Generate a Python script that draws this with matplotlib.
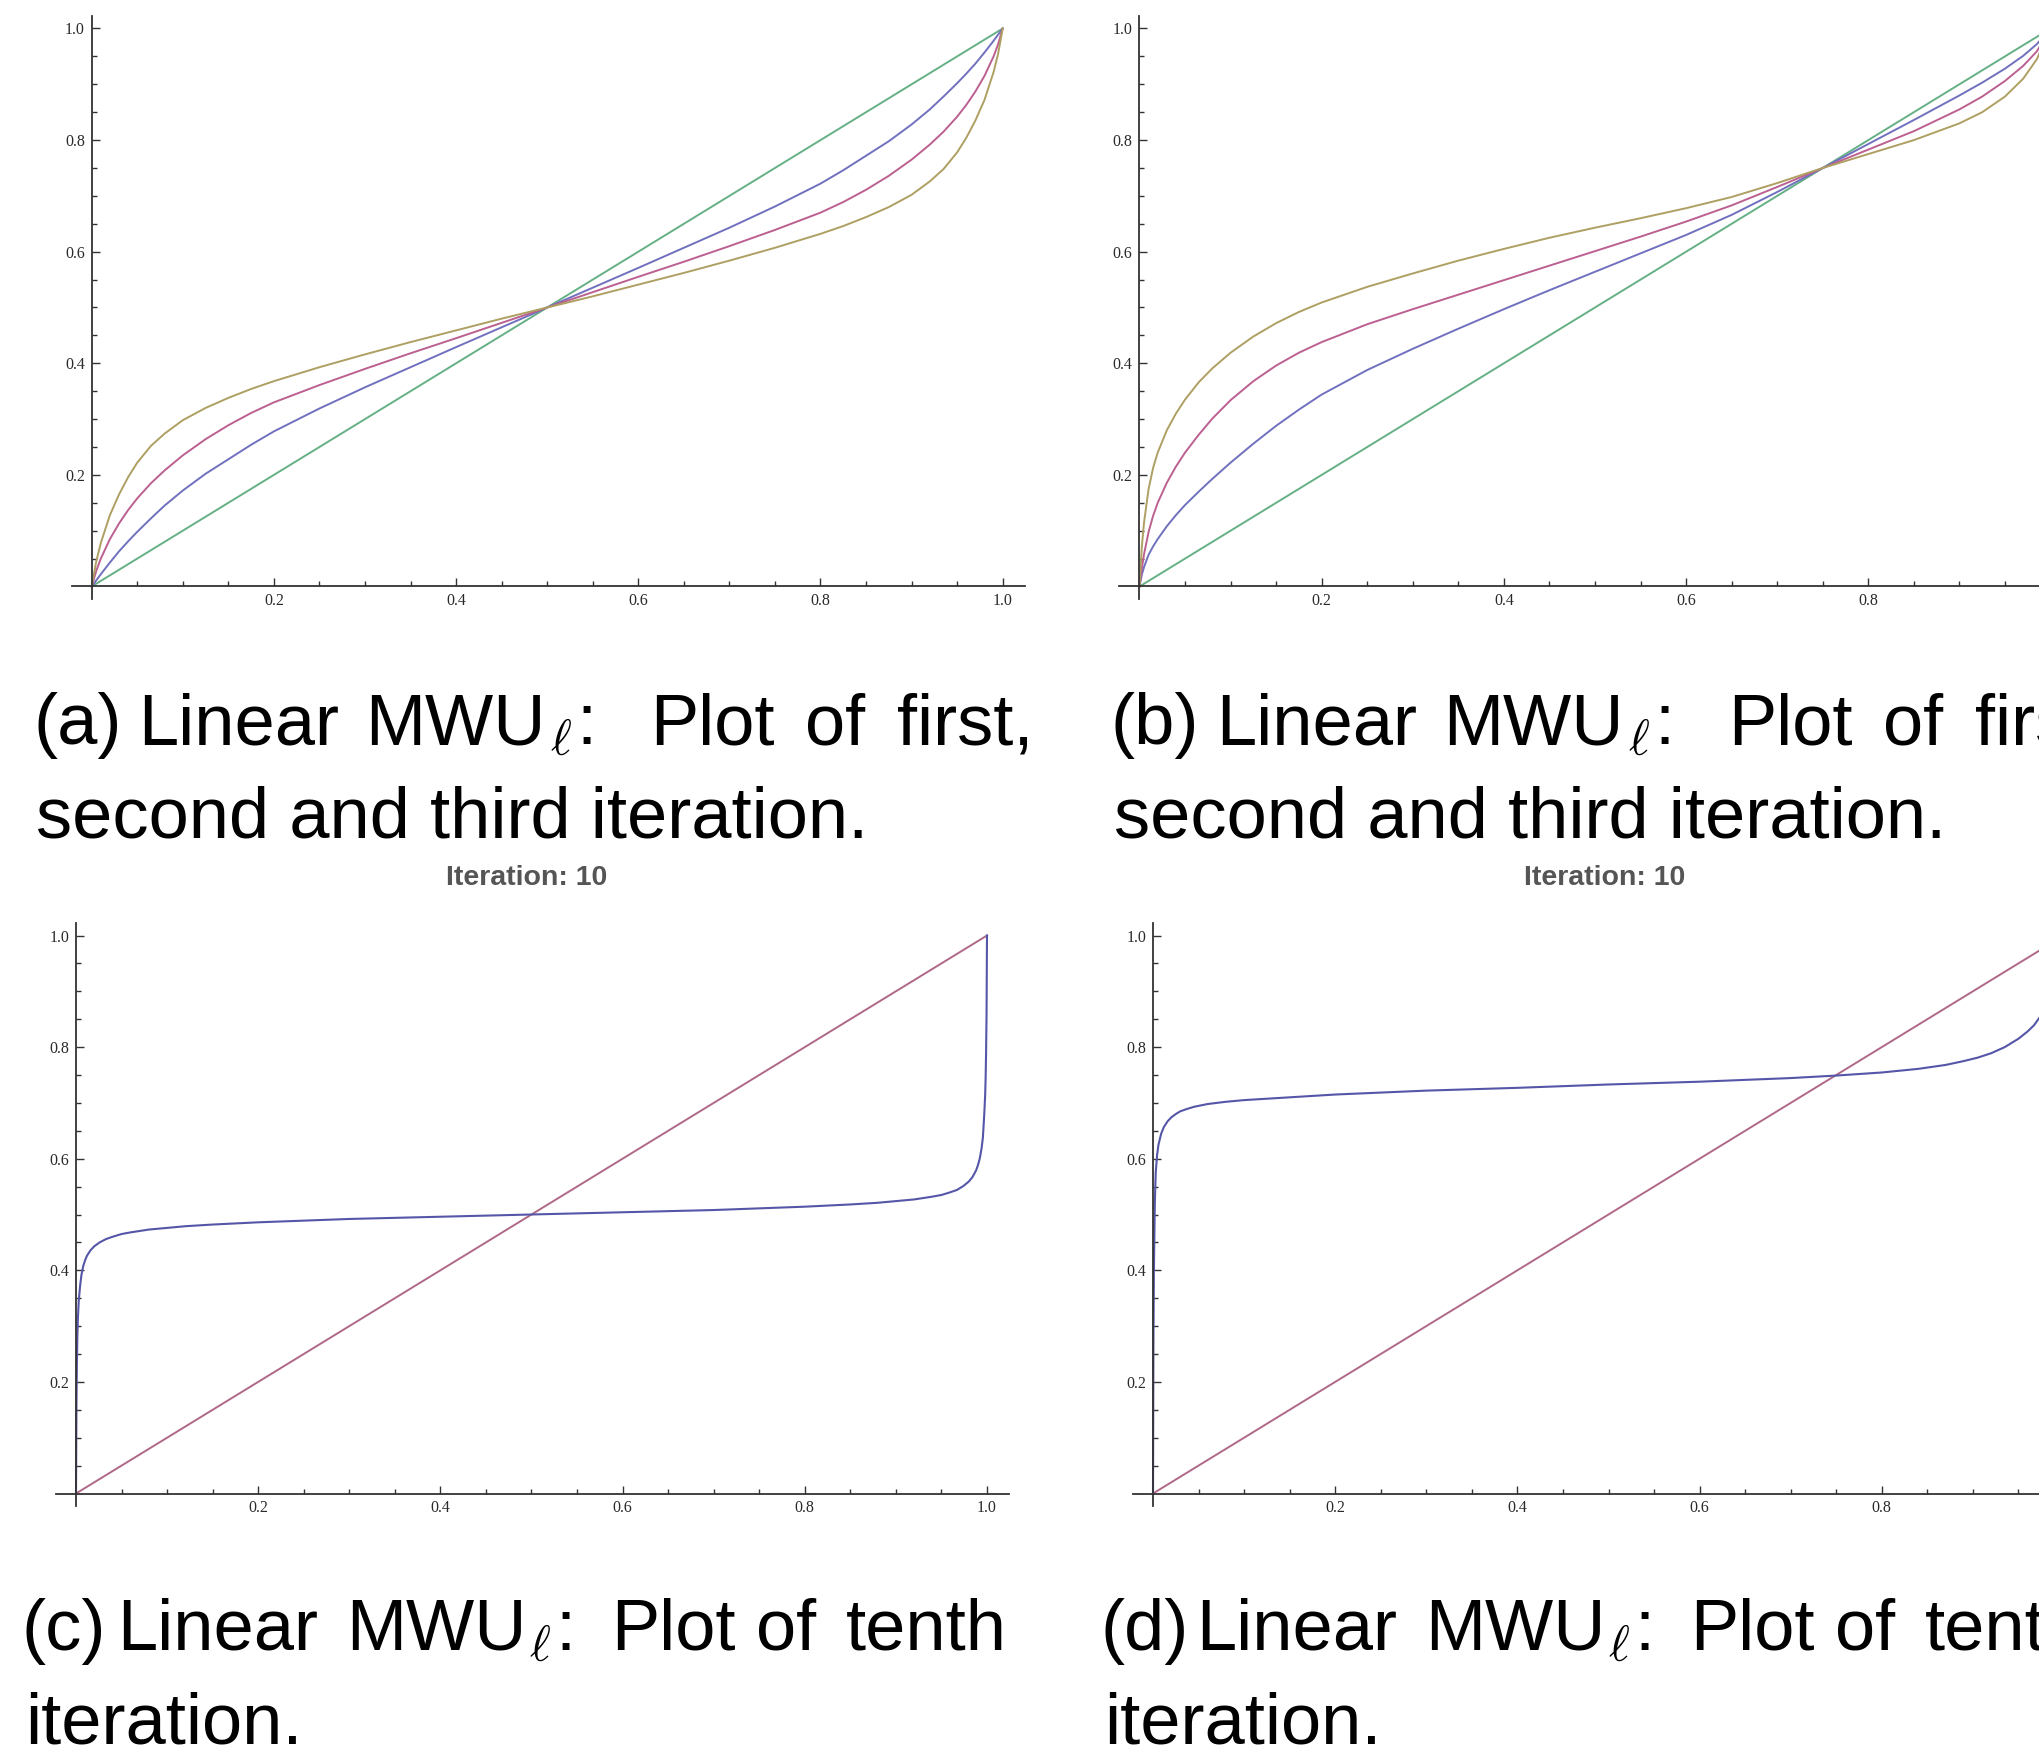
import numpy as np
import matplotlib.pyplot as plt

# colours of the Mathematica default plot style
col = ['#7070bf', '#bb6090', '#ae9f62', '#66b085']
col_c = ['#5656a8', '#b06888']

# (a) first, second and third iteration, fixed point 0.5
xa = [0, 0.005, 0.01, 0.02, 0.03, 0.04, 0.05, 0.065, 0.08, 0.1, 0.125, 0.15, 0.175, 0.2, 0.25,
      0.3, 0.35, 0.4, 0.45, 0.5, 0.55, 0.6, 0.65, 0.7, 0.75, 0.8, 0.825, 0.85, 0.875, 0.9,
      0.92, 0.935, 0.95, 0.96, 0.97, 0.98, 0.99, 0.995, 1.0]
a_it1 = [0, 0.011, 0.022, 0.043, 0.063, 0.081, 0.098, 0.122, 0.145, 0.172, 0.202, 0.228, 0.254, 0.278, 0.319,
         0.357, 0.393, 0.429, 0.4645, 0.5, 0.5355, 0.571, 0.607, 0.643, 0.681, 0.722, 0.746, 0.772, 0.798, 0.828,
         0.855, 0.878, 0.902, 0.919, 0.937, 0.957, 0.978, 0.989, 1.0]
a_it2 = [0, 0.028, 0.05, 0.085, 0.113, 0.137, 0.158, 0.185, 0.208, 0.235, 0.264, 0.289, 0.311, 0.330, 0.361,
         0.390, 0.418, 0.445, 0.4725, 0.5, 0.5275, 0.555, 0.582, 0.610, 0.639, 0.670, 0.689, 0.711, 0.736, 0.765,
         0.792, 0.815, 0.842, 0.863, 0.887, 0.915, 0.950, 0.972, 1.0]
a_it3 = [0, 0.045, 0.078, 0.128, 0.165, 0.196, 0.222, 0.252, 0.274, 0.298, 0.320, 0.338, 0.354, 0.368, 0.393,
         0.416, 0.438, 0.459, 0.480, 0.5, 0.520, 0.541, 0.562, 0.584, 0.607, 0.632, 0.646, 0.662, 0.680, 0.702,
         0.726, 0.748, 0.778, 0.804, 0.835, 0.872, 0.922, 0.955, 1.0]

# (b) same, fixed point 0.75
xb = [0, 0.0025, 0.005, 0.01, 0.015, 0.02, 0.03, 0.04, 0.05, 0.065, 0.08, 0.1, 0.125, 0.15, 0.175,
      0.2, 0.25, 0.3, 0.35, 0.4, 0.45, 0.5, 0.55, 0.6, 0.65, 0.7, 0.75, 0.8, 0.85, 0.9,
      0.925, 0.95, 0.97, 0.985, 1.0]
b_it1 = [0, 0.021, 0.035, 0.057, 0.072, 0.085, 0.108, 0.128, 0.146, 0.170, 0.193, 0.222, 0.256, 0.288, 0.317,
         0.344, 0.388, 0.426, 0.462, 0.497, 0.531, 0.564, 0.597, 0.630, 0.666, 0.707, 0.750, 0.793, 0.836, 0.880,
         0.903, 0.928, 0.951, 0.972, 1.0]
b_it2 = [0, 0.032, 0.058, 0.098, 0.127, 0.150, 0.186, 0.215, 0.240, 0.272, 0.301, 0.334, 0.368, 0.396, 0.419,
         0.438, 0.470, 0.497, 0.523, 0.549, 0.575, 0.601, 0.627, 0.654, 0.683, 0.716, 0.750, 0.783, 0.816, 0.855,
         0.878, 0.906, 0.933, 0.959, 1.0]
b_it3 = [0, 0.07, 0.115, 0.175, 0.213, 0.240, 0.280, 0.310, 0.335, 0.366, 0.391, 0.419, 0.448, 0.472, 0.492,
         0.509, 0.537, 0.561, 0.584, 0.605, 0.625, 0.643, 0.660, 0.678, 0.698, 0.723, 0.750, 0.775, 0.800, 0.830,
         0.850, 0.878, 0.910, 0.945, 1.0]

# (c) tenth iteration, fixed point 0.5
xc = [0, 0.0005, 0.001, 0.0015, 0.002, 0.003, 0.0045, 0.006, 0.008, 0.01, 0.012, 0.016, 0.02, 0.026,
      0.033, 0.04, 0.05, 0.06, 0.08, 0.1, 0.12, 0.15, 0.2, 0.25, 0.3, 0.4, 0.5, 0.6, 0.7, 0.75, 0.8,
      0.85, 0.88, 0.9, 0.92, 0.94, 0.95, 0.96, 0.967, 0.974, 0.98, 0.984, 0.988, 0.99, 0.992, 0.994,
      0.9955, 0.997, 0.998, 0.9985, 0.999, 0.9995, 1.0]
c_it10 = [0, 0.16, 0.235, 0.28, 0.31, 0.345, 0.372, 0.392, 0.408, 0.418, 0.426, 0.436, 0.443, 0.450,
          0.456, 0.460, 0.465, 0.468, 0.473, 0.476, 0.479, 0.482, 0.486, 0.489, 0.492, 0.496, 0.5, 0.504, 0.508, 0.511, 0.514,
          0.518, 0.521, 0.524, 0.527, 0.532, 0.535, 0.540, 0.544, 0.551, 0.559, 0.567, 0.579, 0.588, 0.600, 0.618,
          0.638, 0.68, 0.715, 0.745, 0.79, 0.86, 1.0]

# (d) tenth iteration, fixed point 0.75
xd = [0, 0.0005, 0.001, 0.002, 0.003, 0.0045, 0.006, 0.009, 0.012, 0.016, 0.02, 0.025, 0.03, 0.037,
      0.045, 0.06, 0.08, 0.1, 0.15, 0.2, 0.3, 0.4, 0.5, 0.6, 0.7, 0.75, 0.8, 0.84, 0.87, 0.89, 0.905,
      0.92, 0.935, 0.95, 0.96, 0.967, 0.974, 0.98, 0.985, 0.99, 0.995, 1.0]
d_it10 = [0, 0.28, 0.40, 0.52, 0.575, 0.607, 0.625, 0.645, 0.657, 0.667, 0.674, 0.680, 0.685, 0.689,
          0.693, 0.698, 0.702, 0.705, 0.710, 0.715, 0.722, 0.727, 0.733, 0.738, 0.7445, 0.749, 0.7545, 0.761, 0.768, 0.775, 0.781,
          0.789, 0.800, 0.815, 0.828, 0.839, 0.855, 0.872, 0.89, 0.915, 0.95, 1.0]

diag = [0, 1]
ticks = [0.2, 0.4, 0.6, 0.8, 1.0]
tick_labels = ['0.2', '0.4', '0.6', '0.8', '1.0']
minor = np.arange(0.05, 1.0001, 0.05)

W, H = 2040, 1746
fig = plt.figure(figsize=(W / 100, H / 100), dpi=100)


def panel(x0, y0):
    # x0, y0: pixel position of the data origin, measured from the top left
    xu, yu = 911, 558
    xlo, xhi, ylo, yhi = -0.022, 1.024, -0.023, 1.023
    left = x0 + xlo * xu
    bottom = y0 - ylo * yu
    ax = fig.add_axes([left / W, 1 - bottom / H, (xhi - xlo) * xu / W, (yhi - ylo) * yu / H])
    ax.set_xlim(xlo, xhi)
    ax.set_ylim(ylo, yhi)
    ax.patch.set_alpha(0)
    for s in ['top', 'right']:
        ax.spines[s].set_visible(False)
    ax.spines['left'].set_position(('data', 0))
    ax.spines['bottom'].set_position(('data', 0))
    for s in ['left', 'bottom']:
        ax.spines[s].set_linewidth(1.3)
        ax.spines[s].set_color('#333333')
    ax.set_xticks(ticks)
    ax.set_xticklabels(tick_labels)
    ax.set_yticks(ticks)
    ax.set_yticklabels(tick_labels)
    ax.set_xticks(minor, minor=True)
    ax.set_yticks(minor, minor=True)
    ax.tick_params(which='both', direction='in', colors='#333333', width=1.0)
    ax.tick_params(which='major', length=6, labelsize=11.5, pad=5)
    ax.tick_params(which='minor', length=3.5)
    for lab in ax.get_xticklabels() + ax.get_yticklabels():
        lab.set_family('Liberation Serif')
        lab.set_color('#2a2a2a')
    return ax


ax_a = panel(91.7, 586.5)
ax_a.plot(diag, diag, c=col[3], lw=1.4)
ax_a.plot(xa, a_it1, c=col[0], lw=1.4)
ax_a.plot(xa, a_it2, c=col[1], lw=1.4)
ax_a.plot(xa, a_it3, c=col[2], lw=1.4)

ax_b = panel(1139.5, 586.5)
ax_b.plot(diag, diag, c=col[3], lw=1.4)
ax_b.plot(xb, b_it1, c=col[0], lw=1.4)
ax_b.plot(xb, b_it2, c=col[1], lw=1.4)
ax_b.plot(xb, b_it3, c=col[2], lw=1.4)

ax_c = panel(76, 1493.5)
ax_c.plot(diag, diag, c=col_c[1], lw=1.4)
ax_c.plot(xc, c_it10, c=col_c[0], lw=1.5)

ax_d = panel(1153, 1493.5)
ax_d.plot(diag, diag, c=col_c[1], lw=1.4)
ax_d.plot(xd, d_it10, c=col_c[0], lw=1.5)

for xt in [527, 1605]:
    fig.text(xt / W, 1 - 878 / H, 'Iteration: 10', ha='center', va='center', fontsize=20.5,
             fontweight='bold', family='Liberation Sans', color='#555555')


def caption(x, y, words, last, second):
    # words: list of (offset from x, text); the subscript ell sits after MWU
    for dx, w in words:
        fig.text((x + dx) / W, 1 - y / H, w, fontsize=52, family='Liberation Sans', va='baseline')
    fig.text((x + last) / W, 1 - (y + 11) / H, r'$\ell$', fontsize=36, math_fontfamily='cm', va='baseline')
    fig.text((x + last + 26) / W, 1 - y / H, ':', fontsize=52, family='Liberation Sans', va='baseline')
    fig.text((x + 3) / W, 1 - (y + 93) / H, second, fontsize=52, family='Liberation Sans', va='baseline')


words_ab = [(0, '(a)'), (105, 'Linear'), (332, 'MWU'), (617, 'Plot'), (772, 'of'), (864, 'first,')]
words_cd = [(0, '(c)'), (95, 'Linear'), (324, 'MWU'), (589, 'Plot'), (734, 'of'), (824, 'tenth')]

caption(33, 744, words_ab, 517, 'second and third iteration.')
caption(33 + 1078, 744, [(0, '(b)')] + words_ab[1:], 517, 'second and third iteration.')
caption(22, 1650, words_cd, 507, 'iteration.')
caption(22 + 1079, 1650, [(0, '(d)')] + words_cd[1:], 507, 'iteration.')

fig.savefig('out.png', dpi=100)
